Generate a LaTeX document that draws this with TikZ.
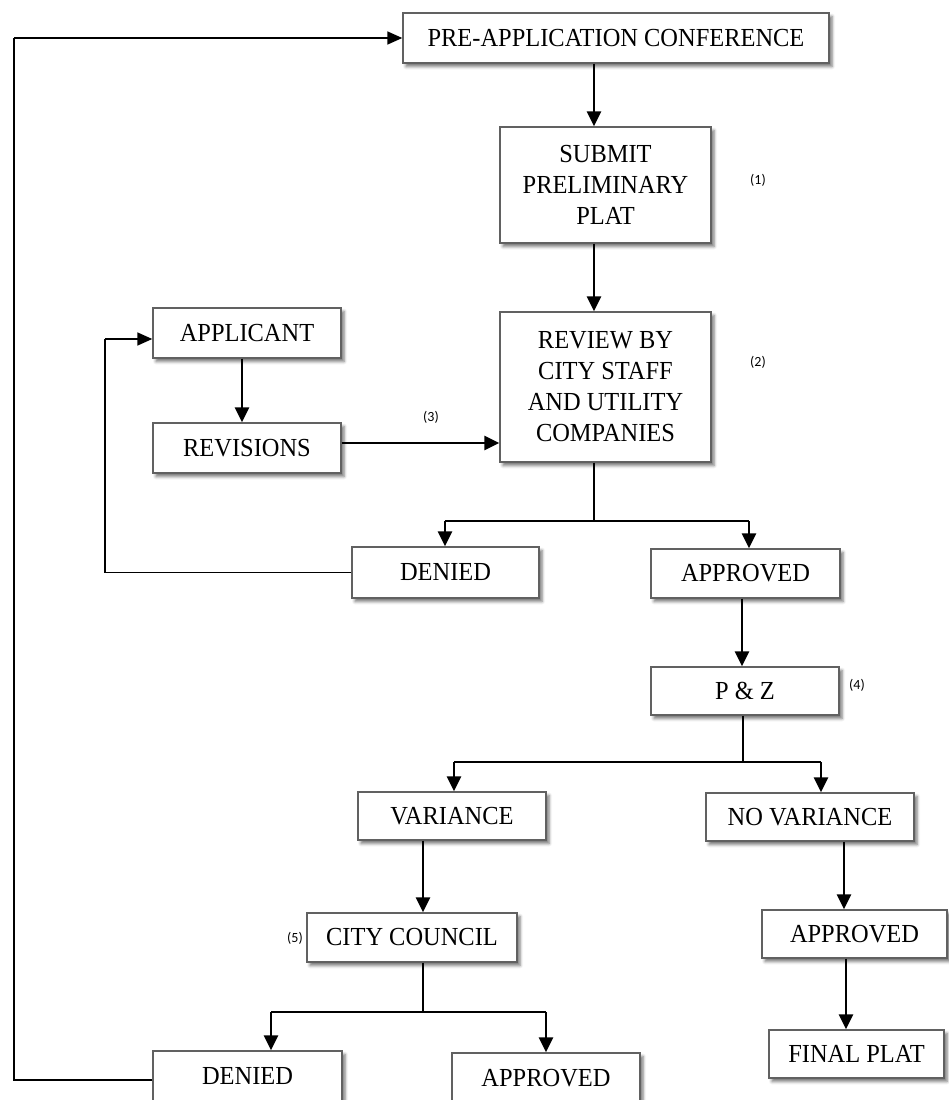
\documentclass[tikz,border=0pt]{standalone}
\usepackage{fontspec}
\setmainfont{Liberation Serif}[FakeStretch=0.94]
\newfontfamily\notefont{Carlito}
\usetikzlibrary{arrows.meta,shadows.blur}

\tikzset{
  box/.style={draw=black!62, line width=1.4pt, fill=white, align=center,
    inner sep=0pt, font=\fontsize{26}{31}\selectfont,
    blur shadow={shadow xshift=3pt, shadow yshift=-3.5pt,
      shadow blur radius=3pt, shadow opacity=55}},
  arr/.style={line width=2.8pt, -{Triangle[width=14pt,length=15pt]}},
  branch/.style={line width=2.4pt},
  fb/.style={line width=1.6pt},
  fbarr/.style={line width=1.6pt, -{Triangle[width=13pt,length=15pt]}},
  note/.style={font=\notefont\fontsize{14}{16}\selectfont}
}

\begin{document}
\begin{tikzpicture}[x=1pt,y=-1pt]
\useasboundingbox (0,0) rectangle (949,1100);
\clip (0,0) rectangle (949,1100);

% process boxes
\node[box, minimum width=426, minimum height=50] (pre) at (616,38) {PRE-APPLICATION CONFERENCE};
\node[box, minimum width=211, minimum height=116] (submit) at (605.5,185) {SUBMIT\\PRELIMINARY\\PLAT};
\node[box, minimum width=211, minimum height=150] (review) at (605.5,387) {REVIEW BY\\CITY STAFF\\AND UTILITY\\COMPANIES};
\node[box, minimum width=188, minimum height=50] (applicant) at (247,333) {APPLICANT};
\node[box, minimum width=188, minimum height=50] (revisions) at (247,448) {REVISIONS};
\node[box, minimum width=187, minimum height=51] (denied1) at (445.5,572.5) {DENIED};
\node[box, minimum width=189, minimum height=49] (approved1) at (745.5,573.5) {APPROVED};
\node[box, minimum width=188, minimum height=48] (pz) at (745,691) {P \& Z};
\node[box, minimum width=188, minimum height=48] (variance) at (452,816) {VARIANCE};
\node[box, minimum width=208, minimum height=48] (novar) at (810,817) {NO VARIANCE};
\node[box, minimum width=210, minimum height=49] (council) at (412,937.5) {CITY COUNCIL};
\node[box, minimum width=185, minimum height=48] (approved2) at (854.5,934) {APPROVED};
\node[box, minimum width=175, minimum height=48] (final) at (856.5,1054) {FINAL PLAT};
\node[box, minimum width=189, minimum height=50] (denied2) at (247.5,1076) {DENIED};
\node[box, minimum width=188, minimum height=50] (approved3) at (546,1078) {APPROVED};

% step numbers
\node[note] (n1) at (758,180) {(1)};
\node[note] (n2) at (758,362) {(2)};
\node[note] (n3) at (431,417) {(3)};
\node[note] (n4) at (857,685) {(4)};
\node[note] (n5) at (295,938) {(5)};

% connector guide positions
\coordinate (xmain) at (594,0);
\coordinate (xapp) at (242,0);
\coordinate (xpz) at (742,0);
\coordinate (xvar) at (423,0);
\coordinate (xnv) at (844,0);
\coordinate (xden) at (271,0);
\coordinate (xrev) at (445,0);
\coordinate (xapr) at (749,0);
\coordinate (xvl) at (454,0);
\coordinate (xnvr) at (821,0);
\coordinate (xcap) at (546,0);
\coordinate (ybr1) at (0,521);
\coordinate (ybr2) at (0,762);
\coordinate (ybr3) at (0,1012);
\coordinate (xleft) at (14,0);
\coordinate (xleft2) at (105,0);

% main line
\draw[arr] (pre.south -| xmain) -- (submit.north -| xmain);
\draw[arr] (submit.south -| xmain) -- (review.north -| xmain);
\draw[arr] (applicant.south -| xapp) -- (revisions.north -| xapp);
\draw[arr] (revisions.east |- 0,443) -- (review.west |- 0,443);

% review outcome
\coordinate (r1) at (review.south -| xmain);
\draw[branch] (r1) -- (r1 |- ybr1);
\draw[arr] (xrev |- ybr1) -- (denied1.north -| xrev);
\draw[branch] (xrev |- ybr1) -- (xapr |- ybr1);
\draw[arr] (xapr |- ybr1) -- (approved1.north -| xapr);

% back to applicant
\draw[fb] (denied1.west) -- (xleft2 |- denied1.west) -- (xleft2 |- 0,339);
\draw[fbarr] (xleft2 |- 0,339) -- (applicant.west |- 0,339);

% planning and zoning
\draw[arr] (approved1.south -| xpz) -- (pz.north -| xpz);
\coordinate (r2) at (pz.south -| 743,0);
\draw[branch] (r2) -- (r2 |- ybr2);
\draw[branch] (xvl |- ybr2) -- (xnvr |- ybr2);
\draw[arr] (xvl |- ybr2) -- (variance.north -| xvl);
\draw[arr] (xnvr |- ybr2) -- (novar.north -| xnvr);

% variance branch
\draw[arr] (variance.south -| xvar) -- (council.north -| xvar);
\coordinate (r3) at (council.south -| xvar);
\draw[branch] (r3) -- (r3 |- ybr3);
\draw[branch] (xden |- ybr3) -- (xcap |- ybr3);
\draw[arr] (xden |- ybr3) -- (denied2.north -| xden);
\draw[arr] (xcap |- ybr3) -- (approved3.north -| xcap);

% no variance branch
\draw[arr] (novar.south -| xnv) -- (approved2.north -| xnv);
\draw[arr] (approved2.south -| 846,0) -- (final.north -| 846,0);

% back to the start
\draw[fb] (denied2.west |- 0,1080) -- (xleft |- 0,1080) -- (xleft |- pre.west);
\draw[fbarr] (xleft |- pre.west) -- (pre.west);
\end{tikzpicture}
\end{document}
